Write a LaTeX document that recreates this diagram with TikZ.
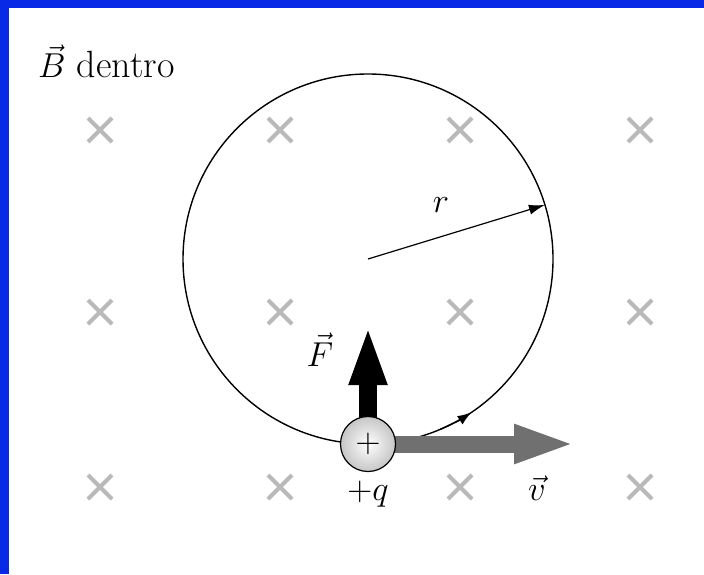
\documentclass[tikz,border=0pt]{standalone}
\usetikzlibrary{arrows.meta}
\definecolor{framecol}{RGB}{8,42,230}
\definecolor{crosscol}{RGB}{185,185,185}
\definecolor{vcol}{RGB}{112,112,112}
\begin{document}
\begin{tikzpicture}[x=0.5pt,y=0.5pt,font=\fontsize{19}{23}\selectfont,
  cross/.style={draw=crosscol,line width=2pt},
  orbit/.style={line width=0.7pt}]
  \fill[framecol] (0,0) rectangle (704,574);
  \fill[white] (9,0) rectangle (704,566);
  \useasboundingbox (0,0) rectangle (704,574);
  \foreach \x in {100,280,460,640}{\foreach \y in {87,262,444}{
    \draw[cross] (\x-12,\y-12)--(\x+12,\y+12) (\x-12,\y+12)--(\x+12,\y-12);}}
  \coordinate (c) at (368,315);
  \coordinate (qc) at (368,130);
  \coordinate (ftip) at (368,249);
  \coordinate (vtip) at (576,130);
  \path (c) ++(17:92.5pt) coordinate (rim);
  \path (c) ++(-67:92.5pt) coordinate (m0);
  \draw[orbit] (c) circle (92.5pt);
  \draw[orbit,-{Latex[length=7pt,width=5pt]}] (m0) arc[start angle=-67,end angle=-56,radius=92.5pt];
  \draw[line width=0.6pt,-{Latex[length=8pt,width=5pt]}] (c) -- (rim);
  \draw[vcol,line width=8.5pt,-{Triangle[length=31pt,width=17.5pt]}] (qc) -- (vtip);
  \draw[line width=9pt,-{Triangle[length=30pt,width=17pt]}] (qc) -- (ftip);
  \node[circle,draw,line width=0.6pt,minimum size=27.5pt,inner sep=0pt,
    inner color=white,outer color=gray!45] (q) at (qc) {$+$};
  \node[anchor=base west] (bl) at (31,496) {$\vec{B}$ dentro};
  \node (rl) at (441,369) {$r$};
  \node (fl) at (320,224) {$\vec{F}$};
  \node (ql) at (368,80) {$+q$};
  \node (vl) at (537,86) {$\vec{v}$};
\end{tikzpicture}
\end{document}
